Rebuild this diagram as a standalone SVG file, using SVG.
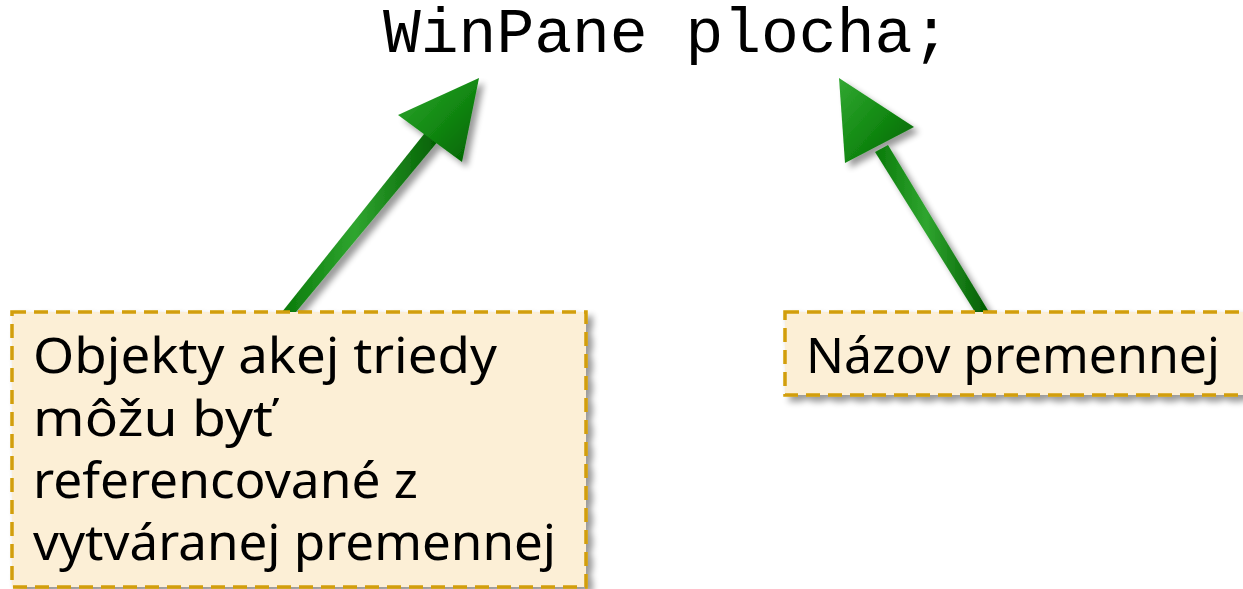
<svg xmlns="http://www.w3.org/2000/svg" width="1243" height="589" viewBox="0 0 1243 589">
<defs>
<style>
.box{fill:#fcefd6;stroke:#d29e08;stroke-width:3.5;stroke-dasharray:14 8}
.lbl{font-family:"Noto Sans","Open Sans",sans-serif;font-size:50px;fill:#000}
.code{font-family:"Liberation Mono","Courier New",monospace;font-size:63px;fill:#000}
.shaft{fill:url(#gs)}
.head{fill:url(#gh)}
</style>
<linearGradient id="gs" x1="0" y1="0" x2="1" y2="0">
<stop offset="0" stop-color="#0a7a0a"/>
<stop offset="0.45" stop-color="#2fa52f"/>
<stop offset="1" stop-color="#005a00"/>
</linearGradient>
<linearGradient id="gh" x1="0" y1="0" x2="1" y2="1">
<stop offset="0" stop-color="#33a833"/>
<stop offset="0.5" stop-color="#138a13"/>
<stop offset="1" stop-color="#006000"/>
</linearGradient>
<filter id="sh" x="-20%" y="-20%" width="140%" height="140%">
<feGaussianBlur in="SourceAlpha" stdDeviation="3"/>
<feOffset dx="5" dy="5" result="b"/>
<feComponentTransfer><feFuncA type="linear" slope="0.4"/></feComponentTransfer>
<feMerge><feMergeNode/><feMergeNode in="SourceGraphic"/></feMerge>
</filter>
</defs>
<rect width="1243" height="589" fill="#fff"/>
<text class="code" x="383" y="52">WinPane plocha;</text>
<g id="connectors" filter="url(#sh)">
<g id="arrow1">
<polygon class="shaft" points="282,312 296,312 444,134 432,124"/>
<polygon class="head" points="479,78 398,115 462,162"/>
</g>
<g id="arrow2">
<polygon class="shaft" points="975,312 989,312 888,145 875,152"/>
<polygon class="head" points="839,78 914,127 845,163"/>
</g>
</g>
<g id="node1" filter="url(#sh)">
<rect class="box" x="12" y="312" width="574" height="275"/>
<text class="lbl" x="33" y="373" textLength="464" lengthAdjust="spacingAndGlyphs">Objekty akej triedy</text>
<text class="lbl" x="33" y="436" textLength="240" lengthAdjust="spacingAndGlyphs">môžu byť</text>
<text class="lbl" x="33" y="498" textLength="385" lengthAdjust="spacingAndGlyphs">referencované z</text>
<text class="lbl" x="33" y="560" textLength="523" lengthAdjust="spacingAndGlyphs">vytváranej premennej</text>
</g>
<g id="node2" filter="url(#sh)">
<rect class="box" x="785" y="312" width="460" height="83"/>
<text class="lbl" x="806" y="373" textLength="414" lengthAdjust="spacingAndGlyphs">Názov premennej</text>
</g>
</svg>
